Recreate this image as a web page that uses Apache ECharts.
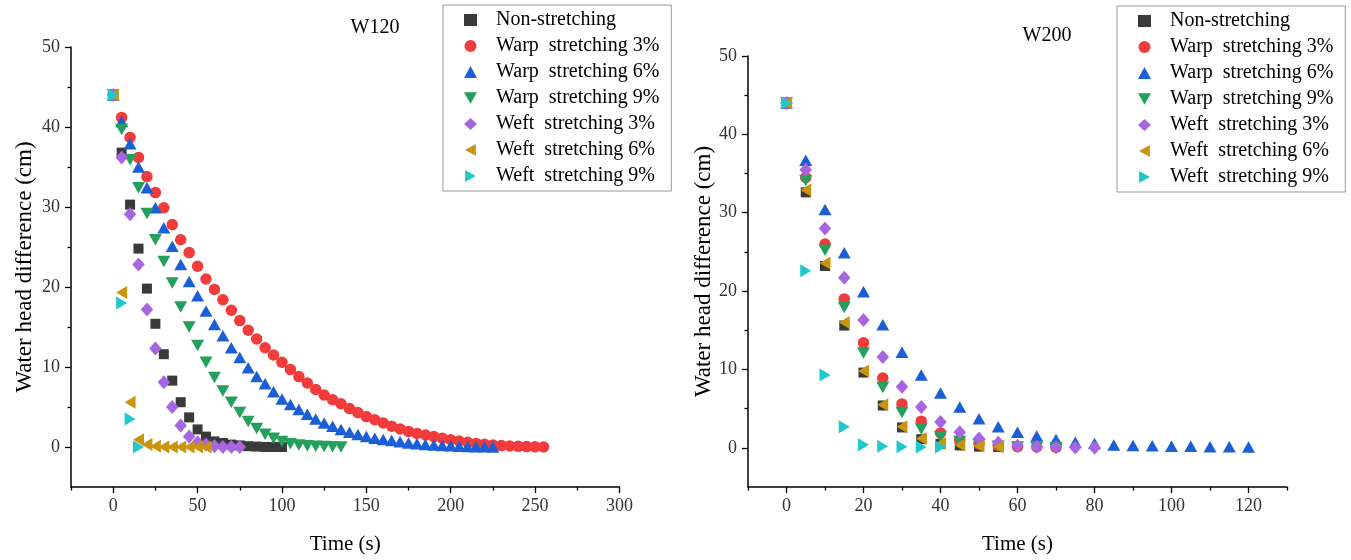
<!DOCTYPE html>
<html><head><meta charset="utf-8">
<script src="https://cdn.jsdelivr.net/npm/echarts@6/dist/echarts.min.js"></script>
<style>html,body{margin:0;padding:0;background:#fff}#c{width:1351px;height:560px}</style>
</head><body><div id="c"></div>
<script>
// Shared time grid (s)
const T = [0,5,10,15,20,25,30,35,40,45,50,55,60,65,70,75,80,85,90,95,100,105,110,115,120,125,130,135,140,145,150,155,160,165,170,175,180,185,190,195,200,205,210,215,220,225,230,235,240,245,250,255];
const NAMES = ['Non-stretching','Warp  stretching 3%','Warp  stretching 6%','Warp  stretching 9%','Weft  stretching 3%','Weft  stretching 6%','Weft  stretching 9%'];

// W120 (left)
const L_NON   = [44,36.8,30.3,24.8,19.8,15.4,11.6,8.3,5.6,3.7,2.2,1.3,0.7,0.5,0.3,0.2,0.1,0.05,0,0,0];
const L_WARP3 = [44,41.2,38.7,36.2,33.8,31.8,29.9,27.8,25.9,24.3,22.6,21.0,19.7,18.4,17.1,15.8,14.6,13.5,12.4,11.5,10.6,9.7,8.8,8.0,7.2,6.5,5.9,5.4,4.8,4.3,3.8,3.4,3.0,2.6,2.25,1.95,1.7,1.5,1.3,1.1,0.9,0.75,0.6,0.45,0.35,0.25,0.18,0.12,0.08,0.05,0.02,0];
const L_WARP6 = [44,40.7,37.9,35.0,32.4,29.9,27.4,25.1,22.8,20.7,18.9,17.0,15.3,13.9,12.4,11.2,9.9,8.8,7.9,6.9,6.0,5.3,4.7,4.1,3.5,3.0,2.6,2.2,1.85,1.55,1.3,1.1,0.95,0.8,0.65,0.5,0.4,0.3,0.25,0.2,0.15,0.1,0.07,0.04,0.02,0];
const L_WARP9 = [44,39.7,35.9,32.4,29.2,25.9,23.2,20.5,17.5,15.0,12.7,10.6,8.7,7.0,5.6,4.3,3.2,2.3,1.6,1.1,0.7,0.4,0.25,0.15,0.1,0.05,0.02,0];
const L_WEFT3 = [44,36.2,29.1,22.8,17.2,12.3,8.1,5.0,2.7,1.3,0.6,0.3,0.1,0,0,0];
const L_WEFT6 = [44,19.3,5.6,0.9,0.3,0.1,0,0,0,0,0,0];
const L_WEFT9 = [44,18.0,3.5,0];

// W200 (right)
const R_NON   = [44,32.6,23.2,15.6,9.6,5.4,2.6,1.1,0.5,0.3,0.15,0.1];
const R_WARP3 = [44,34.5,26.0,19.0,13.4,8.9,5.6,3.4,1.9,1.0,0.5,0.3,0.15,0.1,0.05];
const R_WARP6 = [44,36.7,30.4,24.9,19.9,15.7,12.2,9.3,7.0,5.2,3.7,2.7,2.0,1.5,1.05,0.7,0.55,0.35,0.3,0.25,0.2,0.2,0.15,0.15,0.1];
const R_WARP9 = [44,34.1,25.2,17.9,12.1,7.7,4.5,2.4,1.4,0.8,0.4,0.2,0.1,0.05,0];
const R_WEFT3 = [44,35.5,28.0,21.7,16.3,11.6,7.8,5.2,3.3,2.0,1.2,0.65,0.25,0.15,0.1,0.05,0];
const R_WEFT6 = [44,32.9,23.6,16.0,9.8,5.5,2.7,1.2,0.55,0.35,0.2,0.1];
const R_WEFT9 = [44,22.6,9.3,2.7,0.4,0.2,0.15,0.1,0.1];

// Tick labels
const L_XTICKS = [0,50,100,150,200,250,300];
const L_XMINOR = [-25,25,75,125,175,225,275];
const R_XTICKS = [0,20,40,60,80,100,120];
const R_XMINOR = [-10,10,30,50,70,90,110,130];
const YTICKS = [0,10,20,30,40,50];
const YMINOR = [5,15,25,35,45];

const COLORS = ['#3a3a3a','#f23b3b','#1a5fd6','#23a05b','#a865e0','#c9950c','#1fc8cc'];
const SYMBOLS = ['rect','circle','triangle','path://M0,0 L10,0 L5,9 Z','diamond','path://M0,5 L9,0 L9,10 Z','path://M0,0 L9,5 L0,10 Z'];
const SIZES = [10,11.5,[13,11.5],[13,11.5],[12.5,14],[11,13],[11,13]];

const FONT = 'Liberation Serif';
const pair = arr => arr.map((v,i)=>[T[i],v]);

function mainX(grid,min,max,ticks){
  return {type:'value',gridIndex:grid,position:'bottom',min:min,max:max,name:'Time (s)',nameLocation:'middle',nameGap:47,
    nameTextStyle:{fontFamily:FONT,fontSize:21,color:'#000'},
    axisLine:{show:true,onZero:false,lineStyle:{color:'#000',width:1.5}},
    axisTick:{show:true,inside:false,length:6,customValues:ticks,lineStyle:{color:'#000',width:1.3}},
    axisLabel:{customValues:ticks,fontFamily:FONT,fontSize:18,color:'#333',margin:10},
    splitLine:{show:false}};
}
function minorX(grid,min,max,ticks){
  return {type:'value',gridIndex:grid,position:'bottom',min:min,max:max,
    axisLine:{show:false,onZero:false},
    axisTick:{show:true,inside:false,length:3.5,customValues:ticks,lineStyle:{color:'#000',width:1.3}},
    axisLabel:{show:false},splitLine:{show:false}};
}
function mainY(grid,gap){
  return {type:'value',gridIndex:grid,position:'left',min:-5,max:50,name:'Water head difference (cm)',nameLocation:'middle',nameGap:gap,
    nameTextStyle:{fontFamily:FONT,fontSize:23,color:'#000'},
    axisLine:{show:true,onZero:false,lineStyle:{color:'#000',width:1.5}},
    axisTick:{show:true,inside:false,length:6,customValues:YTICKS,lineStyle:{color:'#000',width:1.3}},
    axisLabel:{customValues:YTICKS,fontFamily:FONT,fontSize:18,color:'#333',margin:11},
    splitLine:{show:false}};
}
function minorY(grid){
  return {type:'value',gridIndex:grid,position:'left',min:-5,max:50,
    axisLine:{show:false,onZero:false},
    axisTick:{show:true,inside:false,length:3.5,customValues:YMINOR,lineStyle:{color:'#000',width:1.3}},
    axisLabel:{show:false},splitLine:{show:false}};
}

const leftData = [L_NON,L_WARP3,L_WARP6,L_WARP9,L_WEFT3,L_WEFT6,L_WEFT9];
const rightData = [R_NON,R_WARP3,R_WARP6,R_WARP9,R_WEFT3,R_WEFT6,R_WEFT9];
const series = [];
[leftData,rightData].forEach((set,g)=>{
  set.forEach((arr,i)=>{
    series.push({type:'scatter',name:NAMES[i],xAxisIndex:g*2,yAxisIndex:g*2,
      data:pair(arr),symbol:SYMBOLS[i],symbolSize:SIZES[i],
      itemStyle:{color:COLORS[i],opacity:1},emphasis:{disabled:true},z:2+i});
  });
});

function legend(left,top){
  return {show:true,orient:'vertical',left:left,top:top,data:NAMES,
    backgroundColor:'#fff',borderColor:'#999',borderWidth:1,borderRadius:0,
    padding:[4,12,4,21],itemWidth:13,itemHeight:12,itemGap:4,selectedMode:false,
    textStyle:{fontFamily:FONT,fontSize:20,color:'#000',lineHeight:22,padding:[0,0,0,14]}};
}

const chart = echarts.init(document.getElementById('c'),null,{renderer:'canvas'});
chart.setOption({
  animation:false,
  backgroundColor:'#fff',
  grid:[
    {left:71,top:47,width:548.5,height:441},
    {left:748,top:56,width:539,height:433.5}
  ],
  xAxis:[mainX(0,-25,300,L_XTICKS),minorX(0,-25,300,L_XMINOR),mainX(1,-10,130,R_XTICKS),minorX(1,-10,130,R_XMINOR)],
  yAxis:[mainY(0,35),minorY(0),mainY(1,31),minorY(1)],
  legend:[legend(443,5),legend(1117,6)],
  graphic:[
    {type:'text',x:375,y:28,style:{text:'W120',font:'20px "Liberation Serif"',fill:'#000',align:'center',verticalAlign:'middle',textAlign:'center',textVerticalAlign:'middle'}},
    {type:'text',x:1047,y:36,style:{text:'W200',font:'20px "Liberation Serif"',fill:'#000',align:'center',verticalAlign:'middle',textAlign:'center',textVerticalAlign:'middle'}}
  ],
  series:series
});
</script>
</body></html>
